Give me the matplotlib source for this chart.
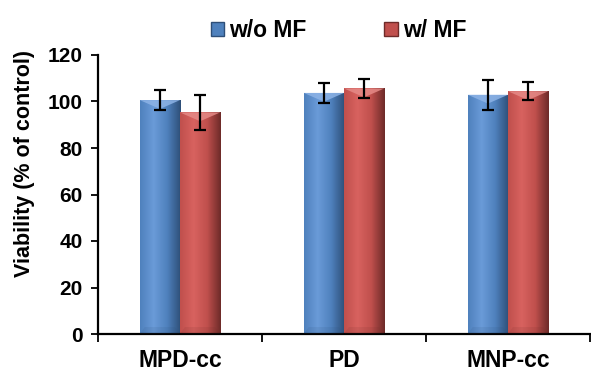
import numpy as np
import matplotlib.pyplot as plt
from matplotlib.colors import LinearSegmentedColormap
from matplotlib.patches import Polygon, Patch

plt.rcParams['font.family'] = ['Liberation Sans', 'DejaVu Sans']
plt.rcParams['font.weight'] = 'bold'

# data
groups = ["MPD-cc", "PD", "MNP-cc"]
series = ["w/o MF", "w/ MF"]
wo_mf = [100.6, 103.7, 102.9]
wo_mf_err = [4.2, 4.3, 6.4]
w_mf = [95.3, 105.6, 104.4]
w_mf_err = [7.5, 4.0, 3.8]

base_cols = ["#4F81BD", "#C0504D"]
light_cols = ["#6A9BD8", "#D8625F"]
dark_cols = ["#2E4F78", "#6E2B29"]
top_cols = ["#8DB3E6", "#E58A87"]

fig = plt.figure(figsize=(5.91, 3.72), dpi=100)
ax = fig.add_axes([98 / 591, 1 - 334 / 372, 492 / 591, 279 / 372])

x = np.arange(len(groups)) + 0.5
w = 0.245
vals = [wo_mf, w_mf]
errs = [wo_mf_err, w_mf_err]

for i in range(2):
    pos = x - w / 2 + i * w
    bars = ax.bar(pos, vals[i], w, color=base_cols[i], zorder=2)
    cmap = LinearSegmentedColormap.from_list(
        "g%d" % i, [base_cols[i], light_cols[i], base_cols[i], dark_cols[i]])
    grad = np.linspace(0, 1, 64).reshape(1, -1)
    for b, v in zip(bars, vals[i]):
        x0 = b.get_x()
        x1 = x0 + b.get_width()
        im = ax.imshow(grad, cmap=cmap, extent=[x0, x1, 0, v], aspect="auto",
                       zorder=2.5)
        im.set_clip_path(b)
        # bevel facet at the top of each bar
        ax.add_patch(Polygon([[x0, v], [x1, v], [x0 + w / 2, v - 3.8]],
                             closed=True, color=top_cols[i], alpha=0.85, lw=0, zorder=3))
        ax.add_patch(Polygon([[x0, 0], [x1, 0], [x1 - 0.03, 3], [x0 + 0.03, 3]],
                             closed=True, color=dark_cols[i], alpha=0.12, lw=0, zorder=3))
    ax.errorbar(pos, vals[i], yerr=errs[i], fmt="none", ecolor="black",
                elinewidth=1.6, capsize=4, capthick=1.6, zorder=4)

ax.set_xlim(0, 3)
ax.set_ylim(0, 120)
ax.set_yticks(range(0, 121, 20))
ax.tick_params(axis="y", labelsize=15, length=5, width=1.3, pad=6)
ax.set_xticks([0, 1, 2, 3])
ax.set_xticklabels([])
ax.tick_params(axis="x", which="major", length=6, width=1.3, direction="out")
ax.set_xticks(x, minor=True)
ax.set_xticklabels(groups, minor=True, fontsize=16.5, fontweight="bold")
ax.tick_params(axis="x", which="minor", length=0, pad=11)
for lab in ax.get_yticklabels():
    lab.set_fontweight("bold")

ax.spines["top"].set_visible(False)
ax.spines["right"].set_visible(False)
ax.spines["left"].set_linewidth(1.6)
ax.spines["bottom"].set_linewidth(1.6)

fig.text(0.042, 0.56, "Viability (% of control)", rotation=90, fontsize=15.5,
         fontweight="bold", ha="center", va="center")

handles = [Patch(facecolor=base_cols[i], edgecolor=dark_cols[i]) for i in range(2)]
fig.legend(handles, series, loc="center left", bbox_to_anchor=(190 / 591, 0.918), ncol=2,
           frameon=False, handlelength=0.6, handleheight=0.6,
           handletextpad=0.2, columnspacing=3.4, prop={"weight": "bold", "size": 16.5})

fig.savefig("out.png", dpi=100)
